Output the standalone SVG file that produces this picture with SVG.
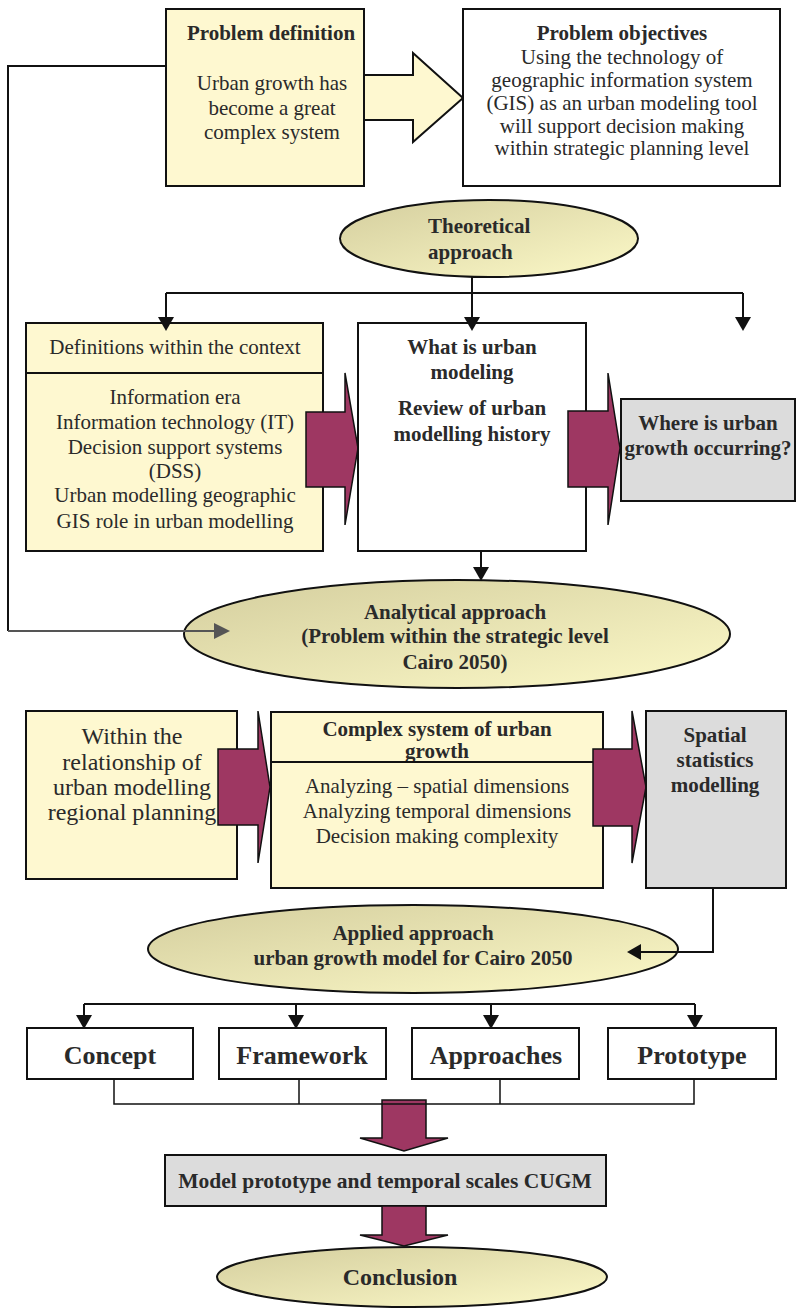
<svg xmlns="http://www.w3.org/2000/svg" width="796" height="1309" viewBox="0 0 796 1309">
<style>
text{font-family:"Liberation Serif","Times New Roman",serif;fill:#2a2a2a;text-anchor:middle;font-size:21px}
.b{font-weight:bold}
.box{stroke:#111;stroke-width:2}
.y{fill:#FEF8D0}
.w{fill:#fff}
.g{fill:#DCDCDC}
.el{fill:url(#eg);stroke:#111;stroke-width:2}
.pa{fill:#9E3762;stroke:#111;stroke-width:1.5}
.ln{fill:none;stroke:#111;stroke-width:2}
.ah{fill:#111}
</style>
<defs>
<linearGradient id="eg" x1="0" y1="0" x2="1" y2="1">
<stop offset="0" stop-color="#D4CE9E"/>
<stop offset="1" stop-color="#FCF9C8"/>
</linearGradient>
</defs>

<g id="problem-definition">
<rect class="box y" x="166" y="9" width="198" height="177"/>
<polygon class="y" points="364,75 413,75 413,53 463,98 413,142 413,120 364,120" stroke="#111" stroke-width="2"/>
<text class="b" x="271" y="40">Problem definition</text>
<text x="272" y="90">Urban growth has</text>
<text x="272" y="115">become a great</text>
<text x="272" y="139">complex system</text>
</g>

<g id="problem-objectives">
<rect class="box w" x="463" y="9" width="317" height="177"/>
<text class="b" x="622" y="40">Problem objectives</text>
<text x="622" y="64">Using the technology of</text>
<text x="622" y="87">geographic information system</text>
<text x="622" y="110">(GIS) as an urban modeling tool</text>
<text x="622" y="133">will support decision making</text>
<text x="622" y="155">within strategic planning level</text>
</g>

<g id="theoretical-approach">
<ellipse class="el" cx="489" cy="238.5" rx="149" ry="38.5"/>
<text class="b" x="428" y="233" style="text-anchor:start">Theoretical</text>
<text class="b" x="428" y="259" style="text-anchor:start">approach</text>
</g>

<g id="definitions">
<rect class="box y" x="26" y="323" width="297" height="228"/>
<line x1="26" y1="373" x2="323" y2="373" stroke="#111" stroke-width="2"/>
<text x="175" y="354">Definitions within the context</text>
<text x="175" y="404">Information era</text>
<text x="175" y="429">Information technology (IT)</text>
<text x="175" y="454">Decision support systems</text>
<text x="175" y="478">(DSS)</text>
<text x="175" y="502">Urban modelling geographic</text>
<text x="175" y="528">GIS role in urban modelling</text>
<polygon class="pa" points="306,412 345,412 345,373 358,448 345,525 345,487 306,487"/>
</g>

<g id="urban-modeling">
<rect class="box w" x="358" y="323" width="228" height="228"/>
<text class="b" x="472" y="354">What is urban</text>
<text class="b" x="472" y="379">modeling</text>
<text class="b" x="472" y="415">Review of urban</text>
<text class="b" x="472" y="441">modelling history</text>
<polygon class="pa" points="568,411 608,411 608,373 620,448 608,525 608,487 568,487"/>
</g>

<g id="where-growth">
<rect class="box g" x="621" y="399" width="174" height="102"/>
<text class="b" x="708" y="430">Where is urban</text>
<text class="b" x="708" y="455">growth occurring?</text>
</g>

<g id="analytical-approach">
<ellipse class="el" cx="457" cy="634" rx="273" ry="54"/>
<text class="b" x="455" y="619">Analytical approach</text>
<text class="b" x="455" y="643">(Problem within the strategic level</text>
<text class="b" x="455" y="669">Cairo 2050)</text>
</g>

<g id="relationship">
<rect class="box y" x="26" y="711" width="211" height="168"/>
<text x="132" y="744" style="font-size:24px">Within the</text>
<text x="132" y="770" style="font-size:24px">relationship of</text>
<text x="132" y="795" style="font-size:24px">urban modelling</text>
<text x="132" y="820" style="font-size:24px">regional planning</text>
<polygon class="pa" points="218,749 258,749 258,711 270,787 258,863 258,825 218,825"/>
</g>

<g id="complex-system">
<rect class="box y" x="271" y="712" width="332" height="176"/>
<text class="b" x="437" y="736">Complex system of urban</text>
<text class="b" x="437" y="758">growth</text>
<rect class="y" x="272" y="762" width="330" height="125"/>
<line x1="271" y1="762" x2="603" y2="762" stroke="#111" stroke-width="2"/>
<text x="437" y="793">Analyzing – spatial dimensions</text>
<text x="437" y="818">Analyzing temporal dimensions</text>
<text x="437" y="843">Decision making complexity</text>
<polygon class="pa" points="593,749 632,749 632,711 646,787 632,863 632,826 593,826"/>
</g>

<g id="spatial-statistics">
<rect class="box g" x="646" y="711" width="140" height="177"/>
<text class="b" x="715" y="742">Spatial</text>
<text class="b" x="715" y="767">statistics</text>
<text class="b" x="715" y="792">modelling</text>
</g>

<g id="applied-approach">
<ellipse class="el" cx="413" cy="949" rx="265" ry="44"/>
<text class="b" x="413" y="940">Applied approach</text>
<text class="b" x="413" y="965">urban growth model for Cairo 2050</text>
</g>

<g id="concept">
<rect class="box w" x="27" y="1028" width="166" height="51"/>
<text class="b" x="110" y="1064" style="font-size:26px">Concept</text>
</g>
<g id="framework">
<rect class="box w" x="219" y="1028" width="167" height="51"/>
<text class="b" x="302" y="1064" style="font-size:26px">Framework</text>
</g>
<g id="approaches">
<rect class="box w" x="412" y="1028" width="167" height="51"/>
<text class="b" x="496" y="1064" style="font-size:26px">Approaches</text>
</g>
<g id="prototype">
<rect class="box w" x="608" y="1028" width="168" height="51"/>
<text class="b" x="692" y="1064" style="font-size:26px">Prototype</text>
</g>

<g id="down-arrow-1">
<polygon class="pa" points="382,1100 426,1100 426,1138 448,1138 404,1151 360,1138 382,1138"/>
</g>

<g id="model-prototype">
<rect class="box g" x="165" y="1155" width="441" height="51"/>
<text class="b" x="385" y="1188" style="font-size:21.5px">Model prototype and temporal scales CUGM</text>
</g>

<g id="down-arrow-2">
<polygon class="pa" points="382,1206 426,1206 426,1235 448,1235 404,1246 360,1235 382,1235"/>
</g>

<g id="conclusion">
<ellipse class="el" cx="412" cy="1277" rx="195" ry="30"/>
<text class="b" x="400" y="1285" style="font-size:24px">Conclusion</text>
</g>

<g id="connectors">
<path class="ln" d="M166 66 H8 V631"/>
<path d="M8 631 H218" fill="none" stroke="#555" stroke-width="2.2"/>
<polygon points="214,623 230,631 214,639" fill="#555"/>
<path class="ln" d="M472 277 V318 M166 293 H743 M166 293 V318 M743 293 V318"/>
<polygon class="ah" points="158,317 174,317 166,331"/>
<polygon class="ah" points="464,317 480,317 472,331"/>
<polygon class="ah" points="735,317 751,317 743,331"/>
<path class="ln" d="M481 551 V568"/>
<polygon class="ah" points="473,567 489,567 481,581"/>
<path class="ln" d="M713 888 V952 H640"/>
<polygon class="ah" points="641,944 641,960 627,952"/>
<path class="ln" d="M84 1004 H695 M84 1004 V1016 M296 1004 V1016 M491 1004 V1016 M695 1004 V1016"/>
<polygon class="ah" points="76,1015 92,1015 84,1029"/>
<polygon class="ah" points="288,1015 304,1015 296,1029"/>
<polygon class="ah" points="483,1015 499,1015 491,1029"/>
<polygon class="ah" points="687,1015 703,1015 695,1029"/>
<path d="M114 1079 V1104 H694 V1079 M299 1079 V1104 M500 1079 V1104" fill="none" stroke="#111" stroke-width="1.5"/>
</g>
</svg>
